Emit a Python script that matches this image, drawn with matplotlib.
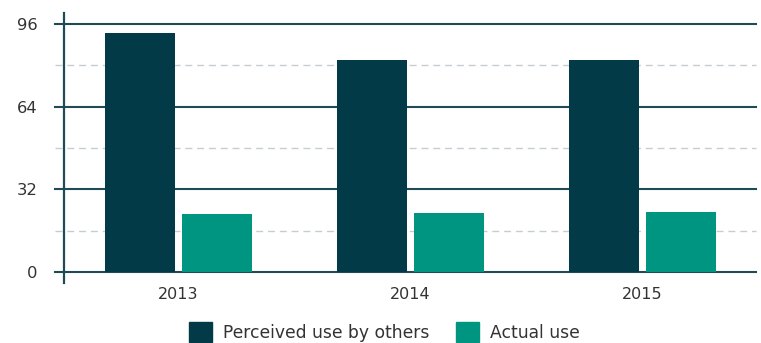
import matplotlib.pyplot as plt
import numpy as np
from matplotlib.patches import Patch

years = ['2013', '2014', '2015']
perceived = [92.3, 82.0, 82.0]
actual = [22.5, 22.9, 23.3]
series_names = ['Perceived use by others', 'Actual use']
major_ticks = [0, 32, 64, 96]
minor_ticks = [16, 48, 80]

dark = '#023a47'
teal = '#009580'
grid_dark = '#1f4b56'
grid_light = '#c3cdd3'
text_col = '#333333'

plt.rcParams['font.family'] = 'DejaVu Sans'

fig = plt.figure(figsize=(7.61, 3.43), dpi=100)
ax = fig.add_axes([64 / 761, 60 / 343, 692 / 761, 270 / 343])

x = np.arange(len(years))
w = 0.302
gap = 0.032
ax.bar(x - (w + gap) / 2, perceived, w, color=dark, zorder=3)
ax.bar(x + (w + gap) / 2, actual, w, color=teal, zorder=3)

ext = -9 / 692
for v in major_ticks:
    ax.axhline(v, xmin=ext, xmax=1, color=grid_dark, lw=1.5, clip_on=False, zorder=2)
for v in minor_ticks:
    ln = ax.axhline(v, xmin=ext, xmax=1, color=grid_light, lw=1.0, clip_on=False, zorder=1)
    ln.set_dashes((5, 3.5))

ax.set_xlim(-0.494, 2.49)
ax.set_ylim(-4.1, 100.1)

for s in ['top', 'right', 'bottom']:
    ax.spines[s].set_visible(False)
ax.spines['left'].set_color(grid_dark)
ax.spines['left'].set_linewidth(1.6)

ax.set_yticks(major_ticks)
ax.set_yticklabels([str(v) for v in major_ticks])
ax.set_xticks(x)
ax.set_xticklabels(years)
ax.tick_params(axis='y', length=0, pad=19, labelsize=11.8, labelcolor=text_col)
ax.tick_params(axis='x', length=0, pad=3, labelsize=11.5, labelcolor=text_col)

handles = [Patch(color=dark), Patch(color=teal)]
fig.legend(handles, series_names, loc='center', bbox_to_anchor=(0.505, 0.032),
           ncol=2, frameon=False, fontsize=12.3, handlelength=1.35, handleheight=1.35,
           handletextpad=0.6, columnspacing=1.6, labelcolor=text_col)

fig.savefig('out.png', dpi=100)
